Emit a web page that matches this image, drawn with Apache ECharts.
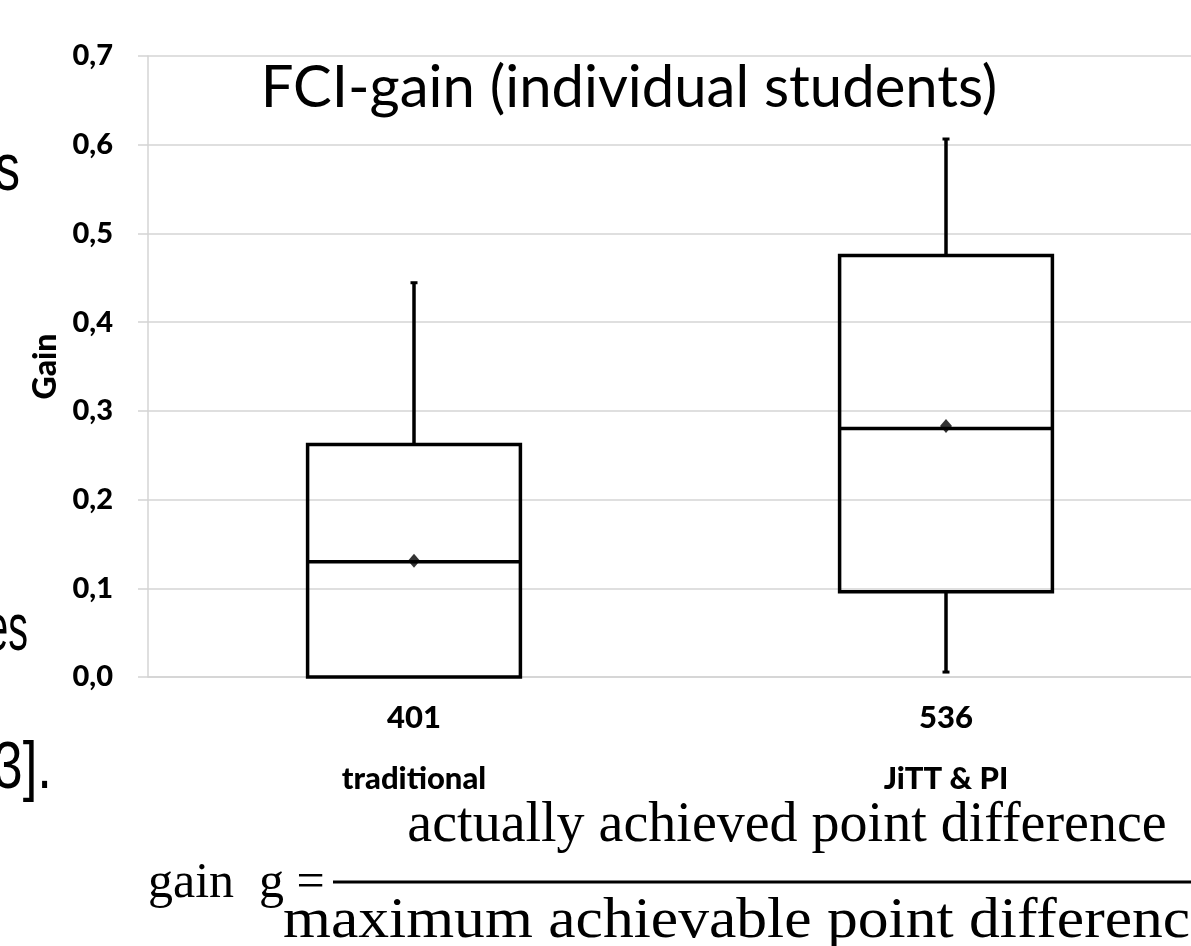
<!DOCTYPE html>
<html>
<head>
<meta charset="utf-8">
<script src="https://cdn.jsdelivr.net/npm/echarts@6/dist/echarts.min.js"></script>
<style>html,body{margin:0;padding:0;background:#fff}#chart{width:1191px;height:946px}</style>
</head>
<body>
<div id="chart"></div>
<script>
// ---- data ----
const counts = ['401', '536'];
const groups = ['traditional', 'JiTT & PI'];
const whiskerLow = [0.0, 0.005];
const q1 = [0.0, 0.096];
const median = [0.13, 0.28];
const q3 = [0.262, 0.475];
const whiskerHigh = [0.445, 0.607];
const means = [0.131, 0.283];
const yTicks = { min: 0, max: 0.7, interval: 0.1 };
const titleText = 'FCI-gain (individual students)';
const yName = 'Gain';

const boxRows = counts.map((c, i) => [i, whiskerLow[i], q1[i], median[i], q3[i], whiskerHigh[i]]);
const meanRows = counts.map((c, i) => [i, means[i]]);

const chart = echarts.init(document.getElementById('chart'), null, { renderer: 'canvas' });
const LW = 3.5;

function renderBox(params, api) {
  const i = api.value(0);
  const pLo = api.coord([i, api.value(1)]);
  const pQ1 = api.coord([i, api.value(2)]);
  const pMed = api.coord([i, api.value(3)]);
  const pQ3 = api.coord([i, api.value(4)]);
  const pHi = api.coord([i, api.value(5)]);
  const bw = api.size([1, 0])[0] * 0.4;
  const cx = pMed[0];
  const st = { stroke: '#000', lineWidth: LW, fill: null };
  const children = [
    { type: 'line', shape: { x1: cx, y1: pQ3[1], x2: cx, y2: pHi[1] }, style: st },
    { type: 'rect', shape: { x: cx - 3.5, y: pHi[1] - 1, width: 7, height: 3 }, style: { fill: '#000' } }
  ];
  if (Math.abs(pLo[1] - pQ1[1]) > 1) {
    children.push({ type: 'line', shape: { x1: cx, y1: pQ1[1], x2: cx, y2: pLo[1] }, style: st });
    children.push({ type: 'rect', shape: { x: cx - 3.5, y: pLo[1] - 2, width: 7, height: 3 }, style: { fill: '#000' } });
  }
  children.push({ type: 'rect', shape: { x: cx - bw / 2, y: pQ3[1], width: bw, height: pQ1[1] - pQ3[1] }, style: st });
  children.push({ type: 'line', shape: { x1: cx - bw / 2, y1: pMed[1], x2: cx + bw / 2, y2: pMed[1] }, style: st });
  return { type: 'group', children };
}

const option = {
  backgroundColor: '#fff',
  animation: false,
  grid: { left: 148, width: 1064, top: 56, bottom: 269, containLabel: false, outerBoundsMode: 'none' },
  xAxis: {
    type: 'category',
    data: counts,
    axisLine: { show: true, lineStyle: { color: '#d4d4d4', width: 1.5 } },
    axisTick: { show: false },
    splitLine: { show: false },
    axisLabel: {
      margin: 26,
      fontFamily: 'Lato', fontWeight: 900, fontSize: 31, color: '#000',
      lineHeight: 30.5,
      formatter: (v, idx) => v + '\n\n' + groups[idx]
    }
  },
  yAxis: {
    type: 'value',
    min: yTicks.min, max: yTicks.max, interval: yTicks.interval,
    name: yName,
    nameLocation: 'middle',
    nameRotate: 90,
    nameGap: 86,
    nameTextStyle: { fontFamily: 'Lato', fontWeight: 900, fontSize: 32, color: '#000' },
    axisLine: { show: true, lineStyle: { color: '#d4d4d4', width: 1.5 } },
    axisTick: { show: true, length: 10, lineStyle: { color: '#d4d4d4', width: 1.5 } },
    splitLine: { show: true, lineStyle: { color: '#d4d4d4', width: 1.5 } },
    axisLabel: {
      margin: 35,
      fontFamily: 'Lato', fontWeight: 900, fontSize: 29, color: '#000',
      formatter: v => v.toFixed(1).replace('.', ',')
    }
  },
  series: [
    {
      type: 'custom',
      renderItem: renderBox,
      data: boxRows,
      encode: { x: 0, y: [1, 2, 3, 4, 5] },
      z: 3
    },
    {
      type: 'scatter',
      data: meanRows,
      symbol: 'diamond',
      symbolSize: [12, 14],
      itemStyle: { color: '#000' },
      z: 4
    }
  ],
  graphic: [
    { type: 'text', x: 629, y: 88, z: 10,
      style: { text: titleText, fontFamily: 'Lato', fontSize: 58, fill: '#000', align: 'center', verticalAlign: 'middle' } },
    // slide text fragments at the left edge
    { type: 'text', x: 20, y: 172, scaleX: 0.75, style: { text: 's', fontFamily: 'Liberation Sans', fontSize: 66, fill: '#000', align: 'right', verticalAlign: 'middle' } },
    { type: 'text', x: 28, y: 632, scaleX: 0.6, style: { text: 'es', fontFamily: 'Liberation Sans', fontSize: 66, fill: '#000', align: 'right', verticalAlign: 'middle' } },
    { type: 'text', x: 52, y: 770, scaleX: 0.8, style: { text: '3].', fontFamily: 'Liberation Sans', fontSize: 66, fill: '#000', align: 'right', verticalAlign: 'middle' } },
    // gain formula
    { type: 'text', x: 148, y: 884, style: { text: 'gain  g =', fontFamily: 'Liberation Serif', fontSize: 50, fill: '#000', align: 'left', verticalAlign: 'middle' } },
    { type: 'text', x: 787, y: 826, style: { text: 'actually achieved point difference', fontFamily: 'Liberation Serif', fontSize: 56, fill: '#000', align: 'center', verticalAlign: 'middle' } },
    { type: 'line', shape: { x1: 333, y1: 882, x2: 1191, y2: 882 }, style: { stroke: '#000', lineWidth: 3 } },
    { type: 'text', x: 283, y: 922, scaleX: 1.1, style: { text: 'maximum achievable point difference', fontFamily: 'Liberation Serif', fontSize: 56, fill: '#000', align: 'left', verticalAlign: 'middle' } }
  ]
};
chart.setOption(option);
</script>
</body>
</html>
